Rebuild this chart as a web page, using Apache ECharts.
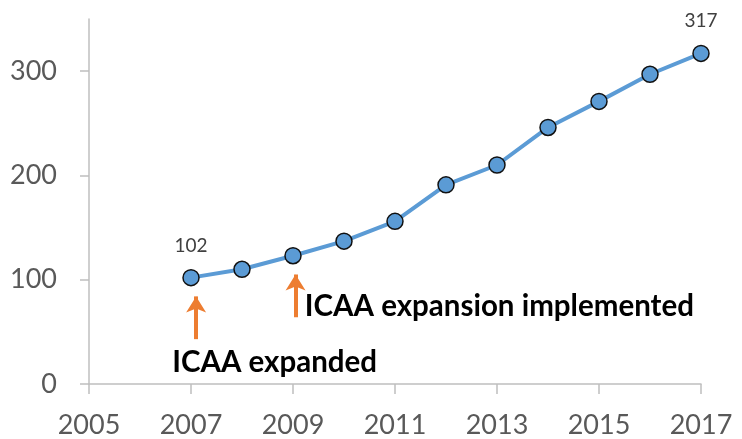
<!DOCTYPE html>
<html>
<head>
<meta charset="utf-8">
<script src="https://cdn.jsdelivr.net/npm/echarts@6/dist/echarts.min.js"></script>
<style>
  html, body { margin: 0; padding: 0; background: #fff; }
  #main { width: 742px; height: 439px; }
</style>
</head>
<body>
<div id="main"></div>
<script>
var chart = echarts.init(document.getElementById('main'));

var years = [2007, 2008, 2009, 2010, 2011, 2012, 2013, 2014, 2015, 2016, 2017];
var counts = [102, 110, 123, 137, 156, 191, 210, 246, 271, 297, 317];
var labelledYears = [2007, 2017];
var yTicks = [0, 100, 200, 300];

// annotations: [label, arrow x, arrow from, arrow to, text x, text y]
var notes = [
    ['ICAA expanded', 2007.1, 43, 84, 2006.63, 21],
    ['ICAA expansion implemented', 2009.05, 64, 105, 2009.23, 74]
];

var seriesData = years.map(function (y, i) {
    return {
        value: [y, counts[i]],
        label: { show: labelledYears.indexOf(y) >= 0 }
    };
});

var option = {
    backgroundColor: '#fff',
    animation: false,
    grid: { left: 89, right: 41, top: 19, bottom: 54 },
    xAxis: {
        type: 'value',
        min: 2005,
        max: 2017,
        interval: 2,
        splitLine: { show: false },
        axisLine: { lineStyle: { color: '#BFBFBF', width: 1.5 } },
        axisTick: { show: true, length: 10, lineStyle: { color: '#BFBFBF', width: 1.5 } },
        axisLabel: {
            color: '#595959',
            fontFamily: 'Lato',
            fontSize: 27,
            margin: 28,
            formatter: function (v) { return String(v); }
        }
    },
    yAxis: {
        type: 'value',
        min: 0,
        max: 350,
        splitLine: { show: false },
        axisLine: { show: true, lineStyle: { color: '#BFBFBF', width: 1.5 } },
        axisTick: { show: true, length: 9, customValues: yTicks, lineStyle: { color: '#BFBFBF', width: 1.5 } },
        axisLabel: {
            color: '#595959',
            fontFamily: 'Lato',
            fontSize: 27,
            margin: 32,
            customValues: yTicks
        }
    },
    series: [{
        type: 'line',
        data: seriesData,
        symbol: 'circle',
        symbolSize: 16,
        lineStyle: { color: '#5B9BD5', width: 4 },
        itemStyle: { color: '#5B9BD5', borderColor: '#111', borderWidth: 1.5 },
        label: {
            position: 'top',
            distance: 14,
            color: '#404040',
            fontFamily: 'Lato',
            fontSize: 19
        },
        markLine: {
            silent: true,
            symbol: ['none', 'arrow'],
            symbolSize: [15, 16],
            label: { show: false },
            lineStyle: { color: '#ED7D31', width: 4, type: 'solid' },
            data: notes.map(function (n) {
                return [{ coord: [n[1], n[2]] }, { coord: [n[1], n[3]] }];
            })
        },
        markPoint: {
            silent: true,
            symbolSize: 0,
            label: {
                show: true,
                position: 'inside',
                align: 'left',
                verticalAlign: 'middle',
                color: '#000',
                fontFamily: 'Lato',
                fontWeight: 'bold',
                fontSize: 29.5,
                formatter: function (p) { return p.name; }
            },
            data: notes.map(function (n) {
                return { name: n[0], coord: [n[4], n[5]] };
            })
        }
    }]
};

chart.setOption(option);
</script>
</body>
</html>
